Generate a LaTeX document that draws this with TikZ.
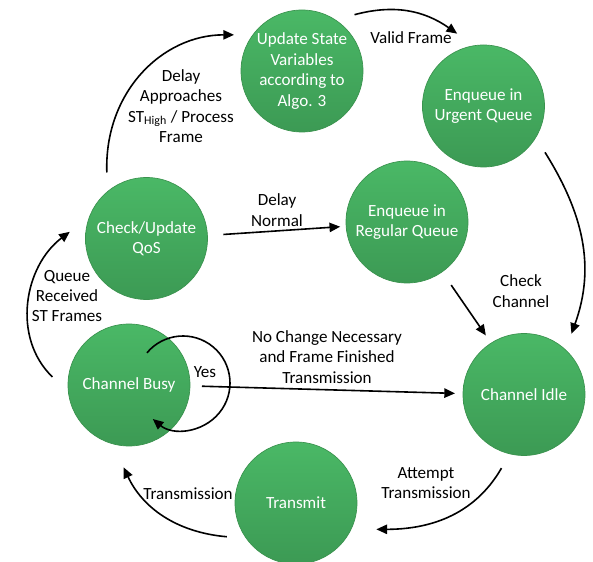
\documentclass[tikz,border=0pt]{standalone}
\usepackage{fontspec}
\setmainfont{Carlito}
\usetikzlibrary{arrows.meta}
\definecolor{circtop}{RGB}{74,184,102}
\definecolor{circbot}{RGB}{60,154,84}
\definecolor{circrim}{RGB}{58,146,78}
\tikzset{
	state/.style={circle,minimum size=91.5pt,inner sep=0pt,outer sep=12pt,draw=circrim,line width=0.5pt,
		top color=circtop,bottom color=circbot,text=white,align=center,font=\fontsize{12.8}{15.3}\selectfont},
	lbl/.style={align=center,font=\fontsize{12.8}{15.3}\selectfont}
}
\begin{document}
\begin{tikzpicture}[x=0.75pt,y=0.75pt,line width=1.2pt,line join=round,>={Triangle[length=8pt,width=7pt]}]
				\useasboundingbox (0,0) rectangle (593,561);
				% states
				\node[state] (upd) at (302,490) {Update State\\Variables\\according to\\Algo. 3};
				\node[state] (urg) at (483.5,455) {Enqueue in\\Urgent Queue};
				\node[state] (reg) at (407,339) {Enqueue in\\Regular Queue};
				\node[state] (qos) at (146.5,322.5) {Check/Update\\QoS};
				\node[state] (busy) at (129,176) {Channel Busy};
				\node[state] (idle) at (524,166.5) {Channel Idle};
				\node[state] (tx) at (296,58) {Transmit};
				% transitions
				\draw[->] (qos.121.5) .. controls +(92:80) and +(180:72) .. (upd.152);
				\draw[->] (upd.47) to[out=15,in=145] (urg.110.6);
				\draw[->] (urg.-37.8) to[out=-58,in=70] (idle.52.6);
				\draw[->,shorten >=-5pt] (reg.-55.7) -- (idle.123);
				\draw[->,shorten >=-7.5pt] (qos.3.5) -- (reg.184);
				\draw[->,shorten <=-3pt,shorten >=-6pt] (busy.-1.5) -- (idle.179);
				\draw[->] (busy) ++(54,2) ++(140:47) arc[start angle=140,end angle=-130,radius=47];
				\draw[->] (busy.174) to[out=136,in=217] (qos.175);
				\draw[->,shorten >=4.8pt] (tx.206.6) to[out=175,in=295] (busy.264.5);
				\draw[->,shorten >=6pt] (idle.253.8) to[out=240,in=0] (tx.-20.6);
				% labels
				\node[lbl] (lapp) at (181,455) {Delay\\Approaches\\ST\textsubscript{High} / Process\\Frame};
				\node[lbl] (lval) at (411,523) {Valid Frame};
				\node[lbl] (lchk) at (521,270) {Check\\Channel};
				\node[lbl] (lnrm) at (277,351) {Delay\\Normal};
				\node[lbl] (lnoc) at (327,204) {No Change Necessary\\and Frame Finished\\Transmission};
				\node[lbl] (lyes) at (205,189) {Yes};
				\node[lbl] (lque) at (67,265) {Queue\\Received\\ST Frames};
				\node[lbl] (ltrm) at (188,67) {Transmission};
				\node[lbl] (latt) at (426,78) {Attempt\\Transmission};
		\end{tikzpicture}
\end{document}
